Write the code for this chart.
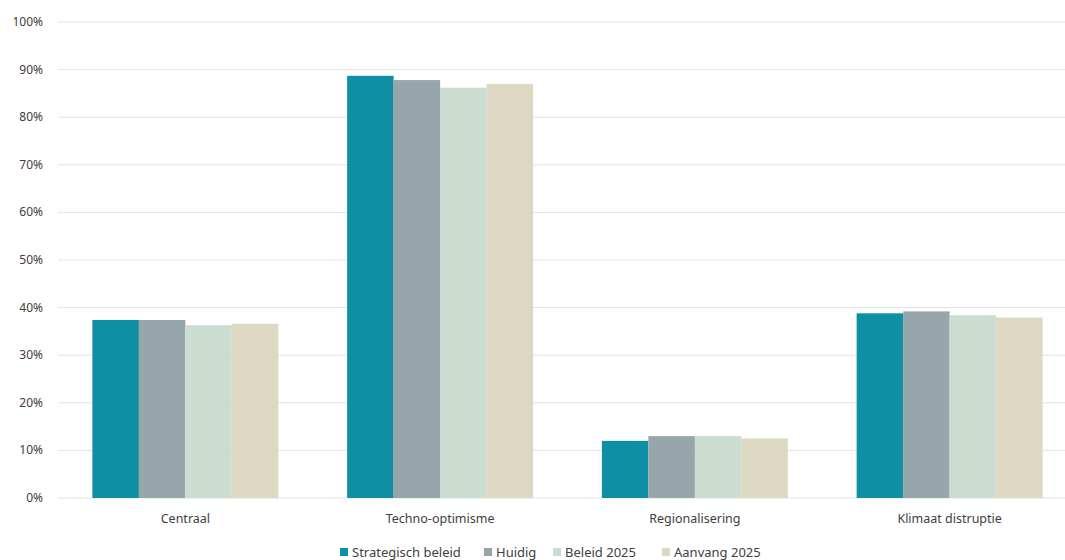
<!DOCTYPE html>
<html>
<head>
<meta charset="utf-8">
<script src="https://cdn.jsdelivr.net/npm/d3@7"></script>
<style>
  body { margin: 0; background: #fff; }
  text { font-family: "Noto Sans", sans-serif; fill: #404040; }
</style>
</head>
<body>
<div class="canvas"></div>
<script>
const categories = ["Centraal", "Techno-optimisme", "Regionalisering", "Klimaat distruptie"];
const seriesNames = ["Strategisch beleid", "Huidig", "Beleid 2025", "Aanvang 2025"];
const strategisch = [37.4, 88.7, 12.0, 38.8];
const huidig = [37.4, 87.8, 13.0, 39.2];
const beleid2025 = [36.3, 86.2, 13.0, 38.4];
const aanvang2025 = [36.6, 87.0, 12.5, 37.9];
const yTicks = [0, 10, 20, 30, 40, 50, 60, 70, 80, 90, 100];
const colors = ["#0e8fa3", "#97a6aa", "#cbdcd1", "#ddd8c2"];

const series = [strategisch, huidig, beleid2025, aanvang2025];

const dims = { width: 1065, height: 560 };
const margin = { left: 58, right: -12, top: 22, bottom: 62 };

const svg = d3
  .select(".canvas")
  .append("svg")
  .attr("width", dims.width)
  .attr("height", dims.height);

const x0 = d3
  .scaleBand()
  .domain(categories)
  .range([margin.left, dims.width - margin.right])
  .paddingInner(0.27)
  .paddingOuter(0.135);

const x1 = d3
  .scaleBand()
  .domain(seriesNames)
  .range([0, x0.bandwidth()]);

const y = d3
  .scaleLinear()
  .domain([0, 100])
  .range([dims.height - margin.bottom, margin.top]);

// gridlines
svg
  .append("g")
  .selectAll("line")
  .data(yTicks)
  .join("line")
  .attr("x1", margin.left)
  .attr("x2", dims.width - margin.right)
  .attr("y1", (d) => y(d))
  .attr("y2", (d) => y(d))
  .attr("stroke", "#e2e2e2")
  .attr("stroke-width", 1);

// y labels
svg
  .append("g")
  .selectAll("text")
  .data(yTicks)
  .join("text")
  .attr("x", 43)
  .attr("y", (d) => y(d) + 4)
  .attr("text-anchor", "end")
  .style("font-size", "12px")
  .text((d) => d + "%");

// bars
const groups = svg
  .append("g")
  .selectAll("g")
  .data(categories)
  .join("g")
  .attr("transform", (d) => `translate(${x0(d)},0)`);

groups
  .selectAll("rect")
  .data((d, i) => seriesNames.map((s, j) => ({ s: s, v: series[j][i], j: j })))
  .join("rect")
  .attr("x", (d) => x1(d.s))
  .attr("width", x1.bandwidth())
  .attr("y", (d) => y(d.v))
  .attr("height", (d) => y(0) - y(d.v))
  .attr("fill", (d) => colors[d.j]);

// category labels
svg
  .append("g")
  .selectAll("text")
  .data(categories)
  .join("text")
  .attr("x", (d) => x0(d) + x0.bandwidth() / 2)
  .attr("y", 523)
  .attr("text-anchor", "middle")
  .style("font-size", "12.5px")
  .text((d) => d);

// legend
const legendX = [340, 484, 553, 662];
const legend = svg
  .append("g")
  .selectAll("g")
  .data(seriesNames)
  .join("g")
  .attr("transform", (d, i) => `translate(${legendX[i]},548)`);

legend
  .append("rect")
  .attr("width", 8)
  .attr("height", 8)
  .attr("fill", (d, i) => colors[i]);

legend
  .append("text")
  .attr("x", 12)
  .attr("y", 9)
  .style("font-size", "13px")
  .text((d) => d);
</script>
</body>
</html>
